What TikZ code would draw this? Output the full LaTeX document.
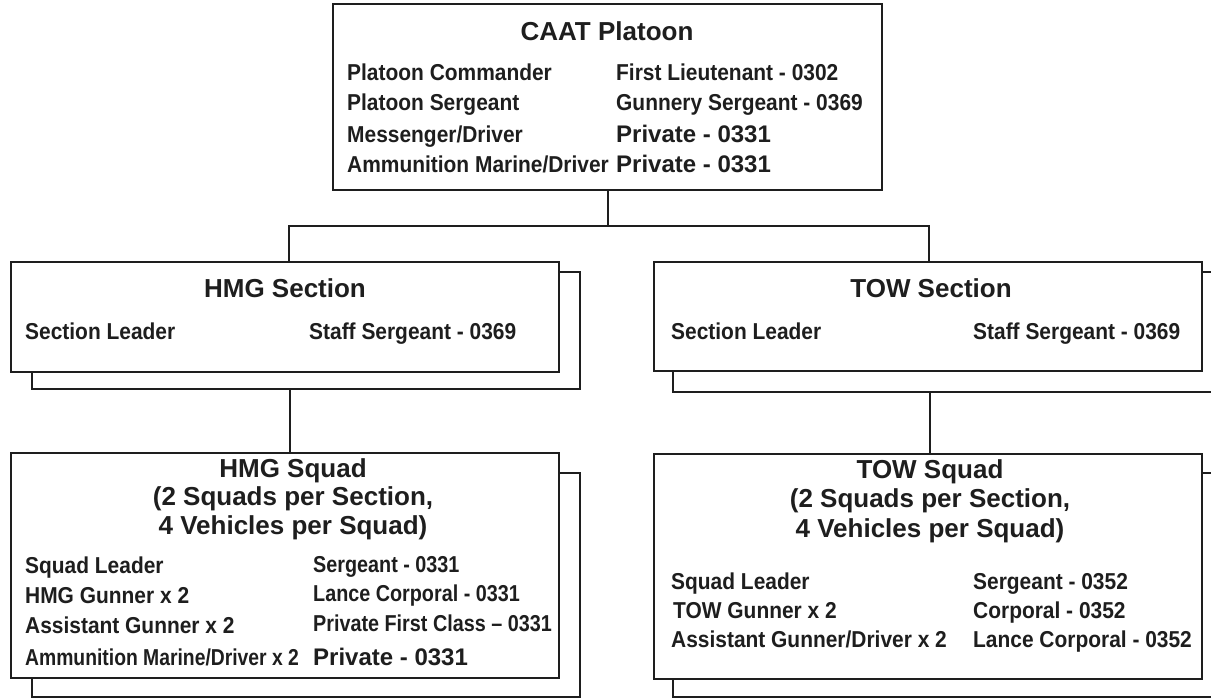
\documentclass[tikz,border=0pt]{standalone}
\usepackage{fontspec}
\setmainfont{Liberation Sans}
% condensed cuts of the same family for the roster lines
\newfontfamily\condsans{Liberation Sans}[FakeStretch=0.91]
\newfontfamily\midsans{Liberation Sans}[FakeStretch=0.86]
\newfontfamily\tightsans{Liberation Sans}[FakeStretch=0.84]
\definecolor{ink}{RGB}{30,30,30}
\tikzset{
  box/.style={draw=ink, line width=2pt, fill=white, inner sep=0pt, outer sep=0pt},
  wire/.style={draw=ink, line width=2pt},
  headtxt/.style={anchor=base, inner sep=0pt, text=ink, font=\fontsize{26}{28}\selectfont\bfseries},
  txt/.style={anchor=base west, inner sep=0pt, text=ink, font=\condsans\fontsize{23}{26}\selectfont\bfseries},
  txtmid/.style={txt, font=\midsans\fontsize{23}{26}\selectfont\bfseries},
  txtnarrow/.style={txt, font=\tightsans\fontsize{23}{26}\selectfont\bfseries},
  txtbig/.style={txt, font=\fontsize{24}{26}\selectfont\bfseries},
}
\begin{document}
\begin{tikzpicture}[x=1pt, y=-1pt]
\fill[white] (0,0) rectangle (1211,698);
\useasboundingbox (0,0) rectangle (1211,698);
\begin{scope}
\clip (0,0) rectangle (1211,698);

% second sheet behind each section and squad
\node[box, minimum width=548pt, minimum height=117pt] (hmgsecB) at (306,330.5) {};
\node[box, minimum width=549pt, minimum height=120pt] (towsecB) at (947.5,332) {};
\node[box, minimum width=548pt, minimum height=224pt] (hmgsqB) at (306,585) {};
\node[box, minimum width=549pt, minimum height=224pt] (towsqB) at (947.5,585) {};

% front sheets
\node[box, minimum width=549pt, minimum height=186pt] (plt) at (607.5,97) {};
\node[box, minimum width=548pt, minimum height=110pt] (hmgsec) at (285,317) {};
\node[box, minimum width=548pt, minimum height=109pt] (towsec) at (928,316.5) {};
\node[box, minimum width=548pt, minimum height=225pt] (hmgsq) at (285,565.5) {};
\node[box, minimum width=548pt, minimum height=225pt] (towsq) at (928,566.5) {};

% connectors
\coordinate (busL) at (289,226);
\coordinate (busR) at (929,226);
\coordinate (hmgstem) at (290,0);
\coordinate (towstem) at (930,0);
\draw[wire] (plt.south) -- (plt.south |- busL);
\draw[wire] (busL |- hmgsec.north) -- (busL) -- (busR) -- (busR |- towsec.north);
\draw[wire] (hmgstem |- hmgsecB.south) -- (hmgstem |- hmgsq.north);
\draw[wire] (towstem |- towsecB.south) -- (towstem |- towsq.north);

% CAAT platoon headquarters
\node[headtxt] (pltT) at (607,41) {CAAT Platoon};
\node[txt] (pltL1) at (347,81) {Platoon Commander};
\node[txt] (pltL2) at (347,111) {Platoon Sergeant};
\node[txt] (pltL3) at (347,142.5) {Messenger/Driver};
\node[txt] (pltL4) at (347,172.5) {Ammunition Marine/Driver};
\node[txt] (pltR1) at (616,81) {First Lieutenant - 0302};
\node[txt] (pltR2) at (616,111) {Gunnery Sergeant - 0369};
\node[txtbig] (pltR3) at (616,142.5) {Private - 0331};
\node[txtbig] (pltR4) at (616,172.5) {Private - 0331};

% HMG section
\node[headtxt] (hmgsecT) at (285,297) {HMG Section};
\node[txt] (hmgsecL1) at (25,339) {Section Leader};
\node[txt] (hmgsecR1) at (309,339) {Staff Sergeant - 0369};

% TOW section
\node[headtxt] (towsecT) at (931,297) {TOW Section};
\node[txt] (towsecL1) at (671,339) {Section Leader};
\node[txt] (towsecR1) at (973,339) {Staff Sergeant - 0369};

% HMG squad
\node[headtxt] (hmgsqT1) at (293,477) {HMG Squad};
\node[headtxt] (hmgsqT2) at (293,505.5) {(2 Squads per Section,};
\node[headtxt] (hmgsqT3) at (293,534) {4 Vehicles per Squad)};
\node[txt] (hmgsqL1) at (25,573) {Squad Leader};
\node[txt] (hmgsqL2) at (25,603) {HMG Gunner x 2};
\node[txt] (hmgsqL3) at (25,633) {Assistant Gunner x 2};
\node[txtnarrow] (hmgsqL4) at (25,665) {Ammunition Marine/Driver x 2};
\node[txtmid] (hmgsqR1) at (313,572) {Sergeant - 0331};
\node[txtmid] (hmgsqR2) at (313,601) {Lance Corporal - 0331};
\node[txtmid] (hmgsqR3) at (313,631) {Private First Class – 0331};
\node[txtbig] (hmgsqR4) at (313,665) {Private - 0331};

% TOW squad
\node[headtxt] (towsqT1) at (930,478) {TOW Squad};
\node[headtxt] (towsqT2) at (930,507.5) {(2 Squads per Section,};
\node[headtxt] (towsqT3) at (930,537) {4 Vehicles per Squad)};
\node[txt] (towsqL1) at (671,589) {Squad Leader};
\node[txt] (towsqL2) at (673,618) {TOW Gunner x 2};
\node[txt] (towsqL3) at (671,647) {Assistant Gunner/Driver x 2};
\node[txt] (towsqR1) at (973,589) {Sergeant - 0352};
\node[txt] (towsqR2) at (973,618) {Corporal - 0352};
\node[txt] (towsqR3) at (973,647) {Lance Corporal - 0352};
\end{scope}
\end{tikzpicture}
\end{document}
